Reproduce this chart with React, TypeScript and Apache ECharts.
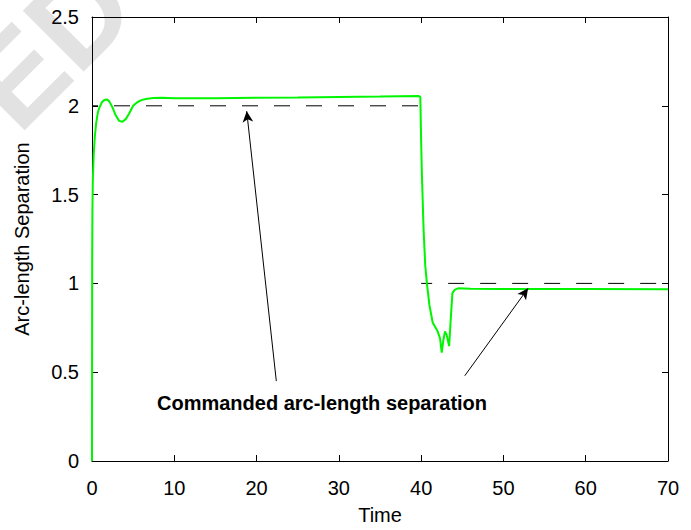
import React, { useEffect, useRef } from "react";
import * as echarts from "echarts";

const xTicks = [0, 10, 20, 30, 40, 50, 60, 70];
const yTicks = [0, 0.5, 1, 1.5, 2, 2.5];

const responseTime = [0, 0.02, 0.05, 0.1, 0.2, 0.35, 0.5, 0.7, 0.9, 1.2, 1.5, 1.8, 2.1, 2.5, 2.9, 3.3, 3.7, 4.1, 4.5, 5.0, 5.5, 6.0, 6.7, 7.5, 8.5, 10, 15, 20, 25, 30, 35, 39.7, 39.9, 40.0, 40.1, 40.3, 40.5, 40.7, 41.0, 41.4, 42.0, 42.3, 42.5, 42.7, 42.9, 43.1, 43.4, 43.6, 43.8, 44.1, 44.5, 46, 50, 60, 70];
const responseValue = [0, 1.1, 1.4, 1.58, 1.72, 1.83, 1.9, 1.96, 1.99, 2.02, 2.033, 2.036, 2.025, 1.99, 1.945, 1.915, 1.91, 1.925, 1.955, 2.0, 2.02, 2.032, 2.04, 2.044, 2.045, 2.042, 2.042, 2.045, 2.047, 2.05, 2.052, 2.055, 2.05, 1.8, 1.6, 1.3, 1.1, 1.0, 0.88, 0.78, 0.73, 0.69, 0.61, 0.68, 0.73, 0.71, 0.647, 0.8, 0.945, 0.965, 0.972, 0.97, 0.969, 0.968, 0.967];

const commandHighTime = [0, 40];
const commandHighValue = [2, 2];
const commandLowTime = [40, 70];
const commandLowValue = [1, 1];

const annotationText = "Commanded arc-length separation";
const arrowTails = [[22.4, 0.45], [45.3, 0.48]];
const arrowHeads = [[18.8, 1.97], [53.0, 0.973]];

const FONT = "'Liberation Sans', Arial, Helvetica, sans-serif";

export default function App() {
  const ref = useRef<HTMLDivElement>(null);
  useEffect(() => {
    if (!ref.current) return;
    const chart = echarts.init(ref.current, undefined, { renderer: "svg" });
    const zip = (xs: number[], ys: number[]) => xs.map((x, i) => [x, ys[i]]);
    const axisCommon = {
      type: "value" as const,
      axisLine: { show: true, onZero: false, lineStyle: { color: "#000", width: 1 } },
      axisTick: { show: true, inside: true, length: 6, lineStyle: { color: "#000" } },
      splitLine: { show: false },
    };
    chart.setOption({
      animation: false,
      backgroundColor: "#fff",
      grid: { left: 92, right: 23, top: 17, bottom: 64, containLabel: false },
      xAxis: [
        {
          ...axisCommon,
          position: "bottom",
          min: xTicks[0],
          max: xTicks[xTicks.length - 1],
          interval: 10,
          name: "Time",
          nameLocation: "middle",
          nameGap: 44,
          nameTextStyle: { color: "#000", fontSize: 20, fontFamily: FONT },
          axisLabel: { color: "#000", fontSize: 20, fontFamily: FONT, margin: 17 },
        },
        {
          ...axisCommon,
          position: "top",
          min: xTicks[0],
          max: xTicks[xTicks.length - 1],
          interval: 10,
          axisLabel: { show: false },
        },
      ],
      yAxis: [
        {
          ...axisCommon,
          position: "left",
          min: yTicks[0],
          max: yTicks[yTicks.length - 1],
          interval: 0.5,
          name: "Arc-length Separation",
          nameLocation: "middle",
          nameGap: 60,
          nameTextStyle: { color: "#000", fontSize: 20, fontFamily: FONT },
          axisLabel: { color: "#000", fontSize: 20, fontFamily: FONT, margin: 13 },
        },
        {
          ...axisCommon,
          position: "right",
          min: yTicks[0],
          max: yTicks[yTicks.length - 1],
          interval: 0.5,
          axisLabel: { show: false },
        },
      ],
      graphic: {
        elements: [
          {
            type: "text",
            x: 155,
            y: 27,
            rotation: Math.PI / 4,
            z: -10,
            silent: true,
            style: {
              text: "ACCEPTED",
              font: "bold 125px " + FONT,
              fill: "#e2e2e2",
              align: "right",
              verticalAlign: "bottom",
            },
          },
          {
            type: "text",
            x: 322,
            y: 403,
            z: 10,
            style: {
              text: annotationText,
              font: "bold 20px " + FONT,
              fill: "#000",
              align: "center",
              verticalAlign: "middle",
            },
          },
        ],
      },
      series: [
        {
          type: "line",
          name: "command-high",
          data: zip(commandHighTime, commandHighValue),
          showSymbol: false,
          lineStyle: { color: "#000", width: 1, type: [16, 16], dashOffset: 10 },
          z: 2,
        },
        {
          type: "line",
          name: "command-low",
          data: zip(commandLowTime, commandLowValue),
          showSymbol: false,
          lineStyle: { color: "#000", width: 1, type: [16, 16], dashOffset: 5 },
          z: 2,
        },
        {
          type: "line",
          name: "response",
          data: zip(responseTime, responseValue),
          showSymbol: false,
          lineStyle: { color: "#00f500", width: 2 },
          z: 3,
          markLine: {
            silent: true,
            symbol: ["none", "arrow"],
            symbolSize: [8, 11],
            label: { show: false },
            lineStyle: { color: "#000", width: 1, type: "solid" },
            data: arrowTails.map((t, i) => [{ coord: t }, { coord: arrowHeads[i] }]),
          },
        },
      ],
    });
    return () => chart.dispose();
  }, []);
  return <div ref={ref} style={{ position: "fixed", left: 0, top: 0, width: 691, height: 530 }} />;
}
